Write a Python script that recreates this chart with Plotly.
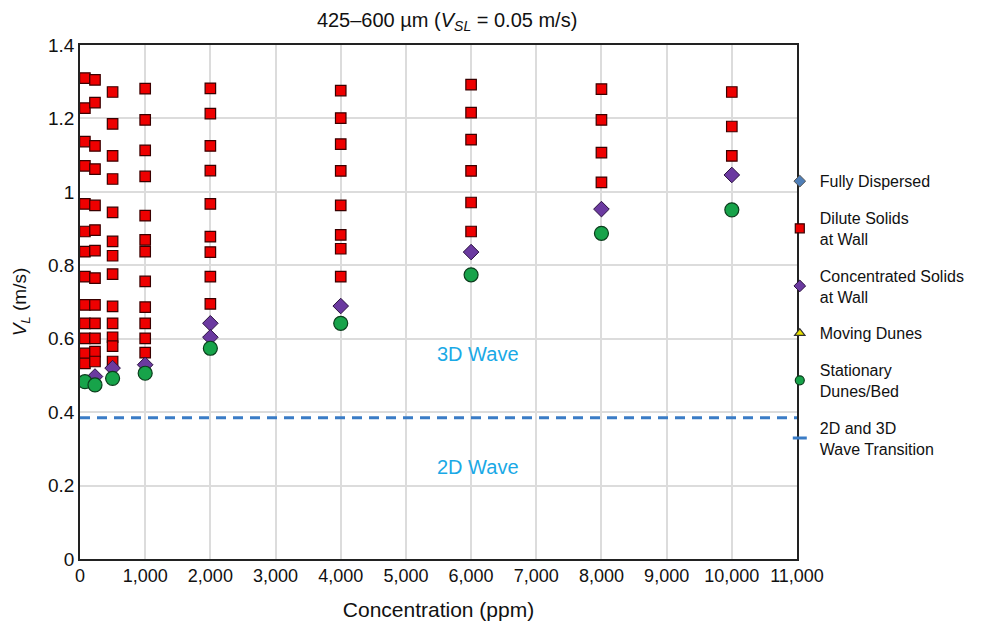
import plotly.graph_objects as go

# ---- data ----
concentrations = [75, 230, 500, 1000, 2000, 4000, 6000, 8000, 10000]

dilute_v = [
    [1.310, 1.228, 1.137, 1.071, 0.967, 0.892, 0.837, 0.769, 0.692, 0.642, 0.601, 0.560, 0.533],
    [1.305, 1.243, 1.125, 1.062, 0.963, 0.896, 0.840, 0.765, 0.692, 0.642, 0.601, 0.565, 0.538],
    [1.272, 1.185, 1.098, 1.035, 0.944, 0.865, 0.826, 0.776, 0.688, 0.642, 0.604, 0.580, 0.538],
    [1.281, 1.196, 1.113, 1.042, 0.935, 0.869, 0.837, 0.756, 0.686, 0.642, 0.601, 0.562],
    [1.282, 1.213, 1.125, 1.058, 0.967, 0.878, 0.836, 0.769, 0.695],
    [1.276, 1.201, 1.130, 1.057, 0.963, 0.883, 0.845, 0.769],
    [1.292, 1.216, 1.142, 1.057, 0.971, 0.892],
    [1.280, 1.196, 1.107, 1.026],
    [1.272, 1.178, 1.098],
]
concentrated_v = [[], [0.497], [0.520], [0.529], [0.642, 0.604], [0.689], [0.836], [0.953], [1.046]]
stationary_v = [[0.483], [0.474], [0.492], [0.506], [0.574], [0.642], [0.774], [0.887], [0.951]]
wave_transition_v = 0.385
x_range = [0, 11000]
x_ticks = list(range(0, 11001, 1000))
y_ticks = [0, 0.2, 0.4, 0.6, 0.8, 1.0, 1.2, 1.4]
y_tick_text = ["0", "0.2", "0.4", "0.6", "0.8", "1", "1.2", "1.4"]


def flatten(vals):
    xs, ys = [], []
    for c, vs in zip(concentrations, vals):
        for v in vs:
            xs.append(c)
            ys.append(v)
    return xs, ys


dx, dy = flatten(dilute_v)
cx, cy = flatten(concentrated_v)
sx, sy = flatten(stationary_v)

FONT = "Liberation Sans, Arial, sans-serif"
RED, RED_EDGE = "#ee0000", "#3a0000"
PUR, PUR_EDGE = "#6b3aa0", "#2a1040"
GRN, GRN_EDGE = "#17a34a", "#0b3d1c"
LINE_C = "#3a7cc6"

fig = go.Figure()
# data traces (not in legend)
fig.add_trace(go.Scatter(x=dx, y=dy, mode="markers", showlegend=False,
                         marker=dict(symbol="square", size=10.5, color=RED,
                                     line=dict(color=RED_EDGE, width=1.2))))
fig.add_trace(go.Scatter(x=cx, y=cy, mode="markers", showlegend=False,
                         marker=dict(symbol="diamond", size=12, color=PUR,
                                     line=dict(color=PUR_EDGE, width=1))))
fig.add_trace(go.Scatter(x=sx, y=sy, mode="markers", showlegend=False,
                         marker=dict(symbol="circle", size=14, color=GRN,
                                     line=dict(color=GRN_EDGE, width=1.2))))
fig.add_trace(go.Scatter(x=x_range, y=[wave_transition_v, wave_transition_v], mode="lines",
                         showlegend=False,
                         line=dict(color=LINE_C, width=3, dash="10px,7px")))

# legend entries (small symbols as in the reference)
legend_items = [
    ("Fully Dispersed", dict(symbol="diamond", size=9, color="#4f7fb8", line=dict(color="#555555", width=1))),
    ("Dilute Solids<br>at Wall", dict(symbol="square", size=9, color=RED, line=dict(color=RED_EDGE, width=1.2))),
    ("Concentrated Solids<br>at Wall", dict(symbol="diamond", size=9, color=PUR, line=dict(color=PUR_EDGE, width=1))),
    ("Moving Dunes", dict(symbol="triangle-up", size=9, color="#e8e000", line=dict(color="#333333", width=1.2))),
    ("Stationary<br>Dunes/Bed", dict(symbol="circle", size=9, color=GRN, line=dict(color=GRN_EDGE, width=1.2))),
    ("2D and 3D<br>Wave Transition", dict(symbol="line-ew", size=10, color=LINE_C, line=dict(color=LINE_C, width=3))),
]
for i, (name, mk) in enumerate(legend_items):
    fig.add_trace(go.Scatter(x=[None], y=[None], mode="markers", name=name,
                             legendgroup="g%d" % i, marker=mk))

fig.add_annotation(x=6100, y=0.558, text="3D Wave", showarrow=False,
                   font=dict(family=FONT, size=20, color="#1aa9e6"))
fig.add_annotation(x=6100, y=0.251, text="2D Wave", showarrow=False,
                   font=dict(family=FONT, size=20, color="#1aa9e6"))

fig.update_layout(
    width=992, height=626,
    margin=dict(l=80, r=195, t=45, b=67),
    paper_bgcolor="white", plot_bgcolor="white",
    font=dict(family=FONT, size=16, color="#111111"),
    title=dict(text="425–600 µm (<i>V</i><sub><i>SL</i></sub> = 0.05 m/s)",
               x=0.512, xref="paper", y=0.968, yref="container",
               xanchor="center", yanchor="middle",
               font=dict(family=FONT, size=20, color="#111111")),
    showlegend=True,
    legend=dict(x=0.976, xanchor="left", y=0.768, yanchor="top",
                font=dict(family=FONT, size=16, color="#111111"),
                tracegroupgap=13, itemwidth=30, bgcolor="rgba(0,0,0,0)"),
    xaxis=dict(range=x_range, tickvals=x_ticks, tickformat=",d", automargin=False,
               showgrid=True, gridcolor="#dcdcdc", gridwidth=1.5,
               showline=True, linecolor="#222222", linewidth=1.5, mirror=True,
               ticks="", zeroline=False,
               tickfont=dict(family=FONT, size=18),
               title=dict(text="Concentration (ppm)", font=dict(family=FONT, size=21), standoff=17)),
    yaxis=dict(range=[0, 1.4], tickvals=y_ticks, ticktext=y_tick_text, automargin=False,
               showgrid=True, gridcolor="#dcdcdc", gridwidth=1.5,
               showline=True, linecolor="#222222", linewidth=1.5, mirror=True,
               ticks="", zeroline=False,
               tickfont=dict(family=FONT, size=19),
               title=dict(text="<i>V</i><sub><i>L</i></sub> (m/s)", font=dict(family=FONT, size=19), standoff=16)),
)

fig.write_html("out.html")
